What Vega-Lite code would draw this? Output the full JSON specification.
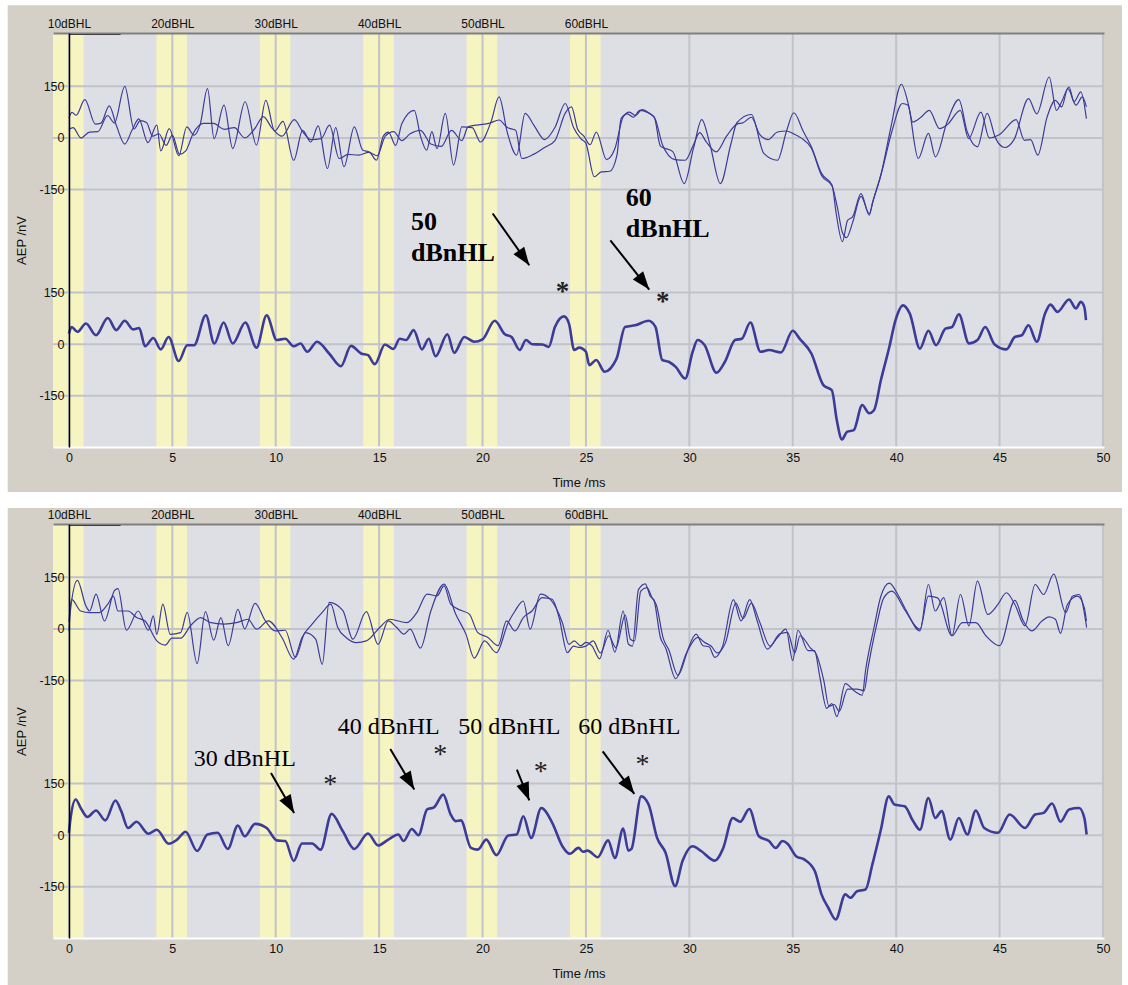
{
"$schema": "https://vega.github.io/schema/vega-lite/v6.json",
"background": "white",
"padding": {"left": 7, "top": 5, "right": 7, "bottom": 0},
"spacing": 15,
"config": {
  "view": {"stroke": null},
  "axis": {"labelFont": "Liberation Sans", "labelFontSize": 12.5, "labelColor": "#111111", "titleFont": "Liberation Sans", "titleFontSize": 13, "titleFontWeight": "normal", "titleColor": "#111111", "ticks": false, "grid": false, "labelFlush": false}
},
"datasets": {
  "bands": [{"from": -0.77, "to": 0.71}, {"from": 4.23, "to": 5.71}, {"from": 9.23, "to": 10.71}, {"from": 14.23, "to": 15.71}, {"from": 19.23, "to": 20.71}, {"from": 24.23, "to": 25.71}],
  "xgrid": [{"t": 0}, {"t": 5}, {"t": 10}, {"t": 15}, {"t": 20}, {"t": 25}, {"t": 30}, {"t": 35}, {"t": 40}, {"t": 45}, {"t": 50}],
  "ygrid": [{"v": -150}, {"v": 0}, {"v": 150}],
  "p1text": [{"t": 16.54, "v": 331, "label": "50\ndBnHL"}, {"t": 26.93, "v": 401, "label": "60\ndBnHL"}],
  "p1stars": [{"t": 23.87, "v": 128.8, "label": "*"}, {"t": 28.71, "v": 99.7, "label": "*"}],
  "p1arrows": [{"t": 20.49, "v": 380, "t2": 22.26, "v2": 229.7, "heading": 144.7}, {"t": 26.18, "v": 302, "t2": 28.06, "v2": 159, "heading": 141.6}],
  "p2text": [{"t": 6.04, "v": 200.6, "label": "30 dBnHL"}, {"t": 13.0, "v": 295.6, "label": "40 dBnHL"}, {"t": 18.83, "v": 295.6, "label": "50 dBnHL"}, {"t": 24.63, "v": 295.6, "label": "60 dBnHL"}],
  "p2stars": [{"t": 12.64, "v": 122, "label": "*"}, {"t": 17.95, "v": 209, "label": "*"}, {"t": 22.82, "v": 160, "label": "*"}, {"t": 27.74, "v": 181, "label": "*"}],
  "p2arrows": [{"t": 9.77, "v": 181, "t2": 10.89, "v2": 64.8, "heading": 149.8}, {"t": 15.54, "v": 250.9, "t2": 16.70, "v2": 132.8, "heading": 149.4}, {"t": 21.66, "v": 191, "t2": 22.26, "v2": 100.9, "heading": 158.4}, {"t": 25.81, "v": 244, "t2": 27.34, "v2": 120, "heading": 143.5}],
  "p1up": [
{"s":"a","t":0,"v":58},{"s":"a","t":0.15,"v":74},{"s":"a","t":0.35,"v":66},{"s":"a","t":0.77,"v":111},{"s":"a","t":1.28,"v":40},{"s":"a","t":1.55,"v":43},{"s":"a","t":1.95,"v":93},{"s":"a","t":2.3,"v":35},{"s":"a","t":2.7,"v":-18},{"s":"a","t":3.05,"v":22},{"s":"a","t":3.38,"v":55},{"s":"a","t":3.82,"v":-14},{"s":"a","t":4.25,"v":37},{"s":"a","t":4.44,"v":-38},{"s":"a","t":4.85,"v":27},{"s":"a","t":5.31,"v":-52},{"s":"a","t":5.7,"v":32},{"s":"a","t":6.05,"v":8},{"s":"a","t":6.35,"v":40},{"s":"a","t":6.7,"v":143},{"s":"a","t":7.02,"v":-2},{"s":"a","t":7.5,"v":95},{"s":"a","t":7.92,"v":-31},{"s":"a","t":8.52,"v":105},{"s":"a","t":9.07,"v":-21},{"s":"a","t":9.52,"v":109},{"s":"a","t":9.95,"v":20},{"s":"a","t":10.35,"v":48},{"s":"a","t":10.87,"v":-65},{"s":"a","t":11.3,"v":22},{"s":"a","t":11.7,"v":-12},{"s":"a","t":12.05,"v":35},{"s":"a","t":12.5,"v":-89},{"s":"a","t":12.9,"v":30},{"s":"a","t":13.3,"v":-84},{"s":"a","t":13.8,"v":32},{"s":"a","t":14.2,"v":-35},{"s":"a","t":14.55,"v":-42},{"s":"a","t":14.87,"v":-65},{"s":"a","t":15.2,"v":5},{"s":"a","t":15.45,"v":17},{"s":"a","t":15.8,"v":-22},{"s":"a","t":16.1,"v":42},{"s":"a","t":16.7,"v":80},{"s":"a","t":17.0,"v":5},{"s":"a","t":17.3,"v":-36},{"s":"a","t":17.55,"v":18},{"s":"a","t":17.8,"v":-31},{"s":"a","t":18.2,"v":71},{"s":"a","t":18.6,"v":-79},{"s":"a","t":19.0,"v":32},{"s":"a","t":19.5,"v":30},{"s":"a","t":19.9,"v":-12},{"s":"a","t":20.4,"v":45},{"s":"a","t":20.8,"v":119},{"s":"a","t":21.2,"v":15},{"s":"a","t":21.65,"v":-50},{"s":"a","t":22.06,"v":71},{"s":"a","t":22.5,"v":35},{"s":"a","t":23.0,"v":-5},{"s":"a","t":23.5,"v":30},{"s":"a","t":24.0,"v":100},{"s":"a","t":24.4,"v":30},{"s":"a","t":24.75,"v":-2},{"s":"a","t":25.0,"v":-16},{"s":"a","t":25.4,"v":-113},{"s":"a","t":25.74,"v":-99},{"s":"a","t":26.15,"v":-97},{"s":"a","t":26.5,"v":-50},{"s":"a","t":26.7,"v":56},{"s":"a","t":27.0,"v":70},{"s":"a","t":27.3,"v":60},{"s":"a","t":27.6,"v":80},{"s":"a","t":28.0,"v":73},{"s":"a","t":28.3,"v":61},{"s":"a","t":28.6,"v":-24},{"s":"a","t":29.2,"v":-40},{"s":"a","t":29.75,"v":-133},{"s":"a","t":30.2,"v":-30},{"s":"a","t":30.6,"v":53},{"s":"a","t":31.0,"v":-20},{"s":"a","t":31.5,"v":-133},{"s":"a","t":32.0,"v":-20},{"s":"a","t":32.3,"v":44},{"s":"a","t":33.0,"v":68},{"s":"a","t":33.6,"v":-45},{"s":"a","t":34.26,"v":-65},{"s":"a","t":34.7,"v":20},{"s":"a","t":35.05,"v":73},{"s":"a","t":35.5,"v":20},{"s":"a","t":35.9,"v":-26},{"s":"a","t":36.4,"v":-104},{"s":"a","t":36.9,"v":-137},{"s":"a","t":37.1,"v":-220},{"s":"a","t":37.4,"v":-302},{"s":"a","t":37.65,"v":-240},{"s":"a","t":37.9,"v":-229},{"s":"a","t":38.3,"v":-162},{"s":"a","t":38.7,"v":-225},{"s":"a","t":38.85,"v":-190},{"s":"a","t":39.26,"v":-108},{"s":"a","t":39.75,"v":32},{"s":"a","t":40.25,"v":156},{"s":"a","t":40.6,"v":95},{"s":"a","t":41.07,"v":-60},{"s":"a","t":41.56,"v":13},{"s":"a","t":41.9,"v":-55},{"s":"a","t":42.46,"v":46},{"s":"a","t":43.03,"v":111},{"s":"a","t":43.44,"v":17},{"s":"a","t":43.93,"v":-26},{"s":"a","t":44.4,"v":71},{"s":"a","t":44.8,"v":0},{"s":"a","t":45.25,"v":-28},{"s":"a","t":45.7,"v":-5},{"s":"a","t":46.4,"v":114},{"s":"a","t":46.8,"v":70},{"s":"a","t":47.4,"v":177},{"s":"a","t":47.75,"v":80},{"s":"a","t":48.0,"v":105},{"s":"a","t":48.36,"v":148},{"s":"a","t":48.6,"v":105},{"s":"a","t":48.93,"v":134},{"s":"a","t":49.2,"v":56},
{"s":"b","t":0,"v":25},{"s":"b","t":0.2,"v":30},{"s":"b","t":0.58,"v":0},{"s":"b","t":1.0,"v":17},{"s":"b","t":1.4,"v":18},{"s":"b","t":1.87,"v":65},{"s":"b","t":2.2,"v":43},{"s":"b","t":2.7,"v":150},{"s":"b","t":3.15,"v":26},{"s":"b","t":3.45,"v":50},{"s":"b","t":3.75,"v":45},{"s":"b","t":4.05,"v":5},{"s":"b","t":4.35,"v":12},{"s":"b","t":4.7,"v":-22},{"s":"b","t":5.0,"v":8},{"s":"b","t":5.35,"v":-48},{"s":"b","t":5.65,"v":-38},{"s":"b","t":6.0,"v":12},{"s":"b","t":6.5,"v":42},{"s":"b","t":7.0,"v":42},{"s":"b","t":7.5,"v":25},{"s":"b","t":8.0,"v":30},{"s":"b","t":8.5,"v":0},{"s":"b","t":9.0,"v":28},{"s":"b","t":9.4,"v":62},{"s":"b","t":9.8,"v":30},{"s":"b","t":10.3,"v":5},{"s":"b","t":10.9,"v":53},{"s":"b","t":11.3,"v":18},{"s":"b","t":11.7,"v":-5},{"s":"b","t":12.2,"v":-2},{"s":"b","t":12.6,"v":37},{"s":"b","t":13.07,"v":-60},{"s":"b","t":13.5,"v":-48},{"s":"b","t":14.0,"v":-50},{"s":"b","t":14.5,"v":-42},{"s":"b","t":14.9,"v":-52},{"s":"b","t":15.3,"v":5},{"s":"b","t":15.7,"v":18},{"s":"b","t":16.1,"v":-8},{"s":"b","t":16.5,"v":12},{"s":"b","t":17.0,"v":22},{"s":"b","t":17.5,"v":-18},{"s":"b","t":18.0,"v":-25},{"s":"b","t":18.5,"v":22},{"s":"b","t":19.0,"v":-8},{"s":"b","t":19.3,"v":32},{"s":"b","t":19.8,"v":38},{"s":"b","t":20.3,"v":42},{"s":"b","t":20.8,"v":52},{"s":"b","t":21.2,"v":30},{"s":"b","t":21.6,"v":22},{"s":"b","t":21.9,"v":-60},{"s":"b","t":22.4,"v":-50},{"s":"b","t":23.0,"v":-28},{"s":"b","t":23.5,"v":-8},{"s":"b","t":24.0,"v":72},{"s":"b","t":24.3,"v":90},{"s":"b","t":24.6,"v":25},{"s":"b","t":24.9,"v":5},{"s":"b","t":25.2,"v":-20},{"s":"b","t":25.5,"v":17},{"s":"b","t":26.0,"v":-63},{"s":"b","t":26.4,"v":-31},{"s":"b","t":26.8,"v":61},{"s":"b","t":27.1,"v":75},{"s":"b","t":27.4,"v":65},{"s":"b","t":27.7,"v":82},{"s":"b","t":28.1,"v":70},{"s":"b","t":28.35,"v":55},{"s":"b","t":28.7,"v":-20},{"s":"b","t":29.3,"v":-63},{"s":"b","t":29.8,"v":-65},{"s":"b","t":30.2,"v":-20},{"s":"b","t":30.5,"v":15},{"s":"b","t":30.8,"v":-10},{"s":"b","t":31.3,"v":-41},{"s":"b","t":31.8,"v":5},{"s":"b","t":32.3,"v":40},{"s":"b","t":32.6,"v":44},{"s":"b","t":33.0,"v":60},{"s":"b","t":33.4,"v":10},{"s":"b","t":33.8,"v":-5},{"s":"b","t":34.26,"v":17},{"s":"b","t":34.7,"v":20},{"s":"b","t":35.0,"v":13},{"s":"b","t":35.4,"v":0},{"s":"b","t":35.9,"v":-30},{"s":"b","t":36.4,"v":-110},{"s":"b","t":36.9,"v":-140},{"s":"b","t":37.15,"v":-200},{"s":"b","t":37.4,"v":-275},{"s":"b","t":37.6,"v":-290},{"s":"b","t":37.9,"v":-245},{"s":"b","t":38.3,"v":-170},{"s":"b","t":38.7,"v":-220},{"s":"b","t":38.9,"v":-180},{"s":"b","t":39.3,"v":-100},{"s":"b","t":39.8,"v":20},{"s":"b","t":40.3,"v":100},{"s":"b","t":40.57,"v":95},{"s":"b","t":40.8,"v":46},{"s":"b","t":41.2,"v":60},{"s":"b","t":41.6,"v":80},{"s":"b","t":42.1,"v":27},{"s":"b","t":42.5,"v":40},{"s":"b","t":43.1,"v":80},{"s":"b","t":43.5,"v":-2},{"s":"b","t":44.1,"v":75},{"s":"b","t":44.5,"v":0},{"s":"b","t":45.0,"v":10},{"s":"b","t":45.8,"v":53},{"s":"b","t":46.2,"v":-7},{"s":"b","t":46.5,"v":-5},{"s":"b","t":46.85,"v":-50},{"s":"b","t":47.3,"v":61},{"s":"b","t":47.7,"v":109},{"s":"b","t":48.0,"v":90},{"s":"b","t":48.3,"v":143},{"s":"b","t":48.7,"v":95},{"s":"b","t":49.0,"v":119},{"s":"b","t":49.2,"v":90}
  ],
  "p1low": [
{"t":0,"v":31},{"t":0.13,"v":50},{"t":0.41,"v":36},{"t":0.82,"v":60},{"t":1.31,"v":26},{"t":1.88,"v":76},{"t":2.29,"v":41},{"t":2.7,"v":68},{"t":3.1,"v":43},{"t":3.4,"v":47},{"t":3.68,"v":-6},{"t":4.08,"v":18},{"t":4.44,"v":-15},{"t":4.82,"v":21},{"t":5.31,"v":-49},{"t":5.72,"v":-3},{"t":6.05,"v":-3},{"t":6.62,"v":84},{"t":7.03,"v":2},{"t":7.48,"v":63},{"t":7.92,"v":2},{"t":8.53,"v":63},{"t":9.07,"v":-10},{"t":9.56,"v":84},{"t":10.05,"v":12},{"t":10.46,"v":16},{"t":10.87,"v":-6},{"t":11.2,"v":2},{"t":11.52,"v":-22},{"t":12.0,"v":7},{"t":12.58,"v":-27},{"t":13.15,"v":-64},{"t":13.64,"v":-5},{"t":14.13,"v":-27},{"t":14.46,"v":-32},{"t":14.79,"v":-58},{"t":15.28,"v":-1},{"t":15.69,"v":-14},{"t":16.0,"v":16},{"t":16.3,"v":12},{"t":16.67,"v":41},{"t":17.07,"v":-15},{"t":17.4,"v":16},{"t":17.73,"v":-35},{"t":18.3,"v":29},{"t":18.63,"v":-25},{"t":19.12,"v":21},{"t":19.6,"v":7},{"t":20.0,"v":14},{"t":20.59,"v":68},{"t":21.08,"v":29},{"t":21.4,"v":21},{"t":21.8,"v":-17},{"t":22.1,"v":12},{"t":22.4,"v":0},{"t":22.9,"v":-1},{"t":23.2,"v":-8},{"t":23.5,"v":50},{"t":23.94,"v":81},{"t":24.18,"v":60},{"t":24.43,"v":-17},{"t":24.67,"v":-10},{"t":25.0,"v":-22},{"t":25.16,"v":-61},{"t":25.5,"v":-46},{"t":25.9,"v":-80},{"t":26.48,"v":-42},{"t":26.89,"v":50},{"t":27.38,"v":55},{"t":28.03,"v":68},{"t":28.36,"v":50},{"t":28.69,"v":-46},{"t":29.0,"v":-51},{"t":29.34,"v":-66},{"t":29.8,"v":-100},{"t":30.16,"v":-22},{"t":30.4,"v":12},{"t":30.74,"v":-3},{"t":31.31,"v":-83},{"t":31.72,"v":-51},{"t":32.21,"v":12},{"t":32.54,"v":16},{"t":32.95,"v":63},{"t":33.44,"v":-22},{"t":33.85,"v":-17},{"t":34.43,"v":-24},{"t":35.0,"v":39},{"t":35.33,"v":16},{"t":35.9,"v":-27},{"t":36.48,"v":-119},{"t":36.89,"v":-134},{"t":37.13,"v":-221},{"t":37.38,"v":-277},{"t":37.62,"v":-255},{"t":37.95,"v":-250},{"t":38.36,"v":-177},{"t":38.69,"v":-201},{"t":38.93,"v":-192},{"t":39.26,"v":-105},{"t":39.67,"v":-8},{"t":39.97,"v":70},{"t":40.33,"v":113},{"t":40.66,"v":89},{"t":41.15,"v":-13},{"t":41.56,"v":39},{"t":41.93,"v":-3},{"t":42.38,"v":45},{"t":42.7,"v":50},{"t":43.03,"v":87},{"t":43.52,"v":2},{"t":43.93,"v":12},{"t":44.31,"v":50},{"t":44.75,"v":0},{"t":45.33,"v":-15},{"t":45.74,"v":21},{"t":46.07,"v":26},{"t":46.4,"v":55},{"t":46.8,"v":7},{"t":47.2,"v":89},{"t":47.46,"v":115},{"t":47.8,"v":94},{"t":48.36,"v":130},{"t":48.69,"v":104},{"t":48.93,"v":123},{"t":49.1,"v":108},{"t":49.18,"v":70}
  ],
  "p2up": [
{"s":"a","t":0,"v":-6},{"s":"a","t":0.08,"v":57},{"s":"a","t":0.41,"v":141},{"s":"a","t":0.82,"v":67},{"s":"a","t":1.0,"v":52},{"s":"a","t":1.31,"v":101},{"s":"a","t":1.72,"v":23},{"s":"a","t":2.2,"v":111},{"s":"a","t":2.37,"v":117},{"s":"a","t":2.78,"v":-4},{"s":"a","t":3.35,"v":52},{"s":"a","t":3.84,"v":-4},{"s":"a","t":4.08,"v":38},{"s":"a","t":4.25,"v":-16},{"s":"a","t":4.54,"v":72},{"s":"a","t":4.9,"v":-16},{"s":"a","t":5.4,"v":-11},{"s":"a","t":5.72,"v":48},{"s":"a","t":6.2,"v":-101},{"s":"a","t":6.6,"v":50},{"s":"a","t":7.0,"v":-33},{"s":"a","t":7.35,"v":33},{"s":"a","t":7.7,"v":-49},{"s":"a","t":8.17,"v":57},{"s":"a","t":8.5,"v":0},{"s":"a","t":9.0,"v":74},{"s":"a","t":9.5,"v":23},{"s":"a","t":9.97,"v":-6},{"s":"a","t":10.46,"v":-4},{"s":"a","t":10.95,"v":-83},{"s":"a","t":11.44,"v":-11},{"s":"a","t":11.93,"v":-30},{"s":"a","t":12.25,"v":-103},{"s":"a","t":12.58,"v":77},{"s":"a","t":13.24,"v":54},{"s":"a","t":13.73,"v":-30},{"s":"a","t":14.38,"v":50},{"s":"a","t":14.95,"v":-45},{"s":"a","t":15.44,"v":23},{"s":"a","t":15.85,"v":4},{"s":"a","t":16.2,"v":-15},{"s":"a","t":16.5,"v":-1},{"s":"a","t":17.0,"v":-56},{"s":"a","t":17.5,"v":52},{"s":"a","t":18.14,"v":130},{"s":"a","t":18.7,"v":43},{"s":"a","t":19.2,"v":-16},{"s":"a","t":19.6,"v":-85},{"s":"a","t":20.1,"v":-35},{"s":"a","t":20.67,"v":-69},{"s":"a","t":21.24,"v":18},{"s":"a","t":21.57,"v":52},{"s":"a","t":21.97,"v":81},{"s":"a","t":22.3,"v":-1},{"s":"a","t":22.8,"v":101},{"s":"a","t":23.28,"v":86},{"s":"a","t":23.86,"v":18},{"s":"a","t":24.18,"v":-45},{"s":"a","t":24.43,"v":-35},{"s":"a","t":24.75,"v":-49},{"s":"a","t":25.0,"v":-39},{"s":"a","t":25.3,"v":-50},{"s":"a","t":25.66,"v":-87},{"s":"a","t":26.07,"v":-4},{"s":"a","t":26.4,"v":-68},{"s":"a","t":26.8,"v":52},{"s":"a","t":27.05,"v":-44},{"s":"a","t":27.25,"v":-50},{"s":"a","t":27.54,"v":114},{"s":"a","t":27.87,"v":131},{"s":"a","t":28.11,"v":95},{"s":"a","t":28.28,"v":85},{"s":"a","t":28.6,"v":-25},{"s":"a","t":28.85,"v":-55},{"s":"a","t":29.34,"v":-145},{"s":"a","t":29.84,"v":-73},{"s":"a","t":30.33,"v":-15},{"s":"a","t":30.66,"v":-49},{"s":"a","t":30.95,"v":-52},{"s":"a","t":31.23,"v":-83},{"s":"a","t":31.6,"v":-52},{"s":"a","t":32.13,"v":85},{"s":"a","t":32.5,"v":23},{"s":"a","t":32.92,"v":85},{"s":"a","t":33.28,"v":23},{"s":"a","t":33.77,"v":-59},{"s":"a","t":34.26,"v":-25},{"s":"a","t":34.67,"v":-1},{"s":"a","t":35.0,"v":-92},{"s":"a","t":35.25,"v":-4},{"s":"a","t":35.74,"v":-63},{"s":"a","t":36.05,"v":-63},{"s":"a","t":36.31,"v":-140},{"s":"a","t":36.64,"v":-231},{"s":"a","t":36.89,"v":-217},{"s":"a","t":37.13,"v":-255},{"s":"a","t":37.54,"v":-159},{"s":"a","t":38.03,"v":-183},{"s":"a","t":38.36,"v":-193},{"s":"a","t":38.52,"v":-121},{"s":"a","t":38.93,"v":4},{"s":"a","t":39.26,"v":95},{"s":"a","t":39.67,"v":133},{"s":"a","t":40.08,"v":100},{"s":"a","t":40.5,"v":52},{"s":"a","t":41.15,"v":-6},{"s":"a","t":41.56,"v":129},{"s":"a","t":41.89,"v":52},{"s":"a","t":42.3,"v":91},{"s":"a","t":42.7,"v":-20},{"s":"a","t":43.11,"v":100},{"s":"a","t":43.52,"v":9},{"s":"a","t":43.93,"v":139},{"s":"a","t":44.43,"v":42},{"s":"a","t":44.92,"v":71},{"s":"a","t":45.33,"v":105},{"s":"a","t":45.74,"v":71},{"s":"a","t":46.23,"v":9},{"s":"a","t":46.72,"v":129},{"s":"a","t":47.13,"v":100},{"s":"a","t":47.62,"v":159},{"s":"a","t":48.2,"v":47},{"s":"a","t":48.52,"v":95},{"s":"a","t":48.85,"v":100},{"s":"a","t":49.21,"v":4},
{"s":"b","t":0,"v":20},{"s":"b","t":0.13,"v":86},{"s":"b","t":0.57,"v":52},{"s":"b","t":1.0,"v":47},{"s":"b","t":1.47,"v":47},{"s":"b","t":1.88,"v":72},{"s":"b","t":2.15,"v":95},{"s":"b","t":2.37,"v":52},{"s":"b","t":2.86,"v":52},{"s":"b","t":3.27,"v":33},{"s":"b","t":3.68,"v":23},{"s":"b","t":4.25,"v":-35},{"s":"b","t":4.66,"v":-47},{"s":"b","t":4.98,"v":-27},{"s":"b","t":5.4,"v":-27},{"s":"b","t":5.88,"v":9},{"s":"b","t":6.37,"v":33},{"s":"b","t":6.86,"v":18},{"s":"b","t":7.5,"v":14},{"s":"b","t":8.1,"v":18},{"s":"b","t":8.66,"v":28},{"s":"b","t":9.07,"v":-1},{"s":"b","t":9.64,"v":23},{"s":"b","t":10.3,"v":-25},{"s":"b","t":10.87,"v":-88},{"s":"b","t":11.27,"v":-25},{"s":"b","t":11.76,"v":14},{"s":"b","t":12.25,"v":48},{"s":"b","t":12.66,"v":72},{"s":"b","t":13.0,"v":4},{"s":"b","t":13.4,"v":-25},{"s":"b","t":13.9,"v":-40},{"s":"b","t":14.38,"v":-35},{"s":"b","t":15.03,"v":4},{"s":"b","t":15.52,"v":28},{"s":"b","t":16.34,"v":18},{"s":"b","t":16.83,"v":48},{"s":"b","t":17.32,"v":101},{"s":"b","t":17.8,"v":96},{"s":"b","t":18.14,"v":125},{"s":"b","t":18.46,"v":72},{"s":"b","t":18.95,"v":54},{"s":"b","t":19.36,"v":43},{"s":"b","t":19.77,"v":-11},{"s":"b","t":20.26,"v":-25},{"s":"b","t":20.75,"v":-49},{"s":"b","t":21.16,"v":23},{"s":"b","t":21.57,"v":-6},{"s":"b","t":21.97,"v":33},{"s":"b","t":22.39,"v":52},{"s":"b","t":22.88,"v":91},{"s":"b","t":23.37,"v":86},{"s":"b","t":23.7,"v":33},{"s":"b","t":24.1,"v":-69},{"s":"b","t":24.4,"v":-50},{"s":"b","t":24.66,"v":-54},{"s":"b","t":25.0,"v":-50},{"s":"b","t":25.35,"v":-35},{"s":"b","t":25.7,"v":-70},{"s":"b","t":26.1,"v":-20},{"s":"b","t":26.45,"v":-55},{"s":"b","t":26.9,"v":40},{"s":"b","t":27.15,"v":-30},{"s":"b","t":27.35,"v":-35},{"s":"b","t":27.65,"v":110},{"s":"b","t":27.95,"v":120},{"s":"b","t":28.2,"v":90},{"s":"b","t":28.4,"v":70},{"s":"b","t":28.75,"v":-30},{"s":"b","t":29.0,"v":-60},{"s":"b","t":29.45,"v":-135},{"s":"b","t":29.95,"v":-60},{"s":"b","t":30.4,"v":-25},{"s":"b","t":30.75,"v":-40},{"s":"b","t":31.05,"v":-50},{"s":"b","t":31.35,"v":-70},{"s":"b","t":31.75,"v":-40},{"s":"b","t":32.25,"v":75},{"s":"b","t":32.6,"v":30},{"s":"b","t":33.0,"v":75},{"s":"b","t":33.4,"v":20},{"s":"b","t":33.9,"v":-50},{"s":"b","t":34.35,"v":-15},{"s":"b","t":34.75,"v":-10},{"s":"b","t":35.1,"v":-70},{"s":"b","t":35.35,"v":-20},{"s":"b","t":35.85,"v":-55},{"s":"b","t":36.15,"v":-75},{"s":"b","t":36.5,"v":-150},{"s":"b","t":36.75,"v":-225},{"s":"b","t":37.0,"v":-220},{"s":"b","t":37.25,"v":-240},{"s":"b","t":37.65,"v":-175},{"s":"b","t":38.1,"v":-175},{"s":"b","t":38.45,"v":-180},{"s":"b","t":38.65,"v":-110},{"s":"b","t":39.05,"v":10},{"s":"b","t":39.4,"v":90},{"s":"b","t":39.8,"v":110},{"s":"b","t":40.4,"v":57},{"s":"b","t":41.15,"v":-1},{"s":"b","t":41.56,"v":95},{"s":"b","t":42.0,"v":90},{"s":"b","t":42.7,"v":-20},{"s":"b","t":43.2,"v":18},{"s":"b","t":43.85,"v":18},{"s":"b","t":44.34,"v":-20},{"s":"b","t":45.0,"v":-49},{"s":"b","t":45.74,"v":83},{"s":"b","t":46.15,"v":23},{"s":"b","t":46.56,"v":-6},{"s":"b","t":47.05,"v":23},{"s":"b","t":47.4,"v":35},{"s":"b","t":47.7,"v":28},{"s":"b","t":47.95,"v":-13},{"s":"b","t":48.28,"v":71},{"s":"b","t":48.77,"v":95},{"s":"b","t":49.1,"v":61},{"s":"b","t":49.2,"v":23}
  ],
  "p2low": [
{"t":0,"v":7},{"t":0.08,"v":50},{"t":0.33,"v":104},{"t":0.57,"v":79},{"t":0.9,"v":53},{"t":1.31,"v":72},{"t":1.76,"v":43},{"t":2.25,"v":101},{"t":2.53,"v":70},{"t":2.86,"v":21},{"t":3.27,"v":39},{"t":3.84,"v":4},{"t":4.25,"v":16},{"t":4.82,"v":-25},{"t":5.23,"v":-13},{"t":5.64,"v":10},{"t":6.2,"v":-46},{"t":6.7,"v":2},{"t":7.19,"v":7},{"t":7.68,"v":-40},{"t":8.17,"v":28},{"t":8.5,"v":-3},{"t":9.0,"v":33},{"t":9.56,"v":21},{"t":10.05,"v":-15},{"t":10.46,"v":-17},{"t":10.87,"v":-75},{"t":11.27,"v":-24},{"t":11.76,"v":-24},{"t":12.17,"v":-42},{"t":12.7,"v":62},{"t":13.24,"v":12},{"t":13.8,"v":-40},{"t":14.46,"v":5},{"t":14.95,"v":-30},{"t":15.44,"v":-13},{"t":15.93,"v":2},{"t":16.18,"v":-17},{"t":16.58,"v":18},{"t":16.9,"v":0},{"t":17.32,"v":75},{"t":17.65,"v":81},{"t":18.1,"v":118},{"t":18.46,"v":60},{"t":18.7,"v":41},{"t":18.95,"v":43},{"t":19.44,"v":-37},{"t":19.77,"v":-42},{"t":20.18,"v":-13},{"t":20.67,"v":-58},{"t":21.24,"v":-1},{"t":21.65,"v":2},{"t":21.97,"v":55},{"t":22.35,"v":-8},{"t":22.84,"v":79},{"t":23.37,"v":36},{"t":23.86,"v":-32},{"t":24.22,"v":-54},{"t":24.64,"v":-37},{"t":24.85,"v":-48},{"t":25.08,"v":-45},{"t":25.57,"v":-64},{"t":26.07,"v":-15},{"t":26.4,"v":-66},{"t":26.8,"v":19},{"t":27.05,"v":-45},{"t":27.2,"v":-40},{"t":27.67,"v":113},{"t":28.03,"v":89},{"t":28.44,"v":-8},{"t":28.85,"v":-51},{"t":29.31,"v":-148},{"t":29.67,"v":-75},{"t":30.16,"v":-32},{"t":30.57,"v":-46},{"t":31.23,"v":-74},{"t":31.64,"v":-37},{"t":32.1,"v":50},{"t":32.46,"v":39},{"t":32.9,"v":76},{"t":33.36,"v":-3},{"t":33.85,"v":-17},{"t":34.18,"v":-37},{"t":34.5,"v":-17},{"t":34.75,"v":-25},{"t":35.16,"v":-61},{"t":35.57,"v":-71},{"t":36.07,"v":-105},{"t":36.39,"v":-172},{"t":36.72,"v":-211},{"t":37.08,"v":-245},{"t":37.54,"v":-172},{"t":37.79,"v":-182},{"t":38.11,"v":-163},{"t":38.52,"v":-158},{"t":38.85,"v":-85},{"t":39.26,"v":16},{"t":39.64,"v":113},{"t":39.92,"v":89},{"t":40.41,"v":84},{"t":40.82,"v":41},{"t":41.15,"v":16},{"t":41.56,"v":108},{"t":41.89,"v":50},{"t":42.2,"v":70},{"t":42.62,"v":-13},{"t":43.03,"v":50},{"t":43.44,"v":2},{"t":43.85,"v":72},{"t":44.26,"v":21},{"t":44.92,"v":7},{"t":45.49,"v":60},{"t":46.23,"v":21},{"t":46.72,"v":60},{"t":47.13,"v":65},{"t":47.54,"v":92},{"t":47.95,"v":39},{"t":48.36,"v":75},{"t":48.85,"v":79},{"t":49.1,"v":50},{"t":49.21,"v":2}
  ]
},
"vconcat": [
 {
  "width": 1051, "height": 414,
  "layer": [
     {"data": {"values": [{}]}, "mark": {"type": "rect", "color": "#d4d0c8"},
      "encoding": {"x": {"datum": -2.96, "type": "quantitative", "scale": {"domain": [-0.77, 50.05], "nice": false, "zero": false}, "axis": null}, "x2": {"datum": 50.92}, "y": {"datum": 985.5, "type": "quantitative", "scale": {"domain": [-299, 905], "nice": false, "zero": false}, "axis": null}, "y2": {"datum": -430}}},
     {"data": {"values": [{}]}, "mark": {"type": "rect", "color": "#dedfe5"},
      "encoding": {"x": {"datum": -0.77, "type": "quantitative", "scale": {"domain": [-0.77, 50.05], "nice": false, "zero": false}, "axis": null}, "x2": {"datum": 50.05}, "y": {"datum": 905, "type": "quantitative", "scale": {"domain": [-299, 905], "nice": false, "zero": false}, "axis": null}, "y2": {"datum": -299}}},
     {"data": {"name": "bands"}, "mark": {"type": "rect", "fill": "#f6f4c0", "strokeWidth": 0, "stroke": null},
      "encoding": {"x": {"field": "from", "type": "quantitative", "scale": {"domain": [-0.77, 50.05], "nice": false, "zero": false}, "axis": {"orient": "bottom", "zindex": 1, "grid": false, "values": [0,5,10,15,20,25,30,35,40,45,50], "format": "d", "title": "Time /ms", "domainColor": "#ffffff", "domainWidth": 2, "labelPadding": 4, "titlePadding": 13}}, "x2": {"field": "to"}, "y": {"datum": 905, "type": "quantitative", "scale": {"domain": [-299, 905], "nice": false, "zero": false}, "axis": null}, "y2": {"datum": -299}}},
     {"data": {"name": "xgrid"}, "mark": {"type": "rule", "color": "#c2c3c9", "strokeWidth": 2},
      "encoding": {"x": {"field": "t", "type": "quantitative", "scale": {"domain": [-0.77, 50.05], "nice": false, "zero": false}, "axis": {"orient": "top", "zindex": 1, "grid": false, "values": [0,5,10,15,20,25], "labelExpr": "(datum.value/5+1)*10 + 'dBHL'", "title": null, "domainColor": "#808080", "domainWidth": 2, "labelPadding": 3, "labelFontSize": 12}}, "y": {"datum": 905, "type": "quantitative", "scale": {"domain": [-299, 905], "nice": false, "zero": false}, "axis": null}, "y2": {"datum": -299}}},
     {"data": {"name": "ygrid"}, "mark": {"type": "rule", "color": "#c2c3c9", "strokeWidth": 2},
      "encoding": {"y": {"field": "v", "type": "quantitative", "scale": {"domain": [-299, 905], "nice": false, "zero": false}, "axis": {"orient": "left", "zindex": 1, "grid": false, "offset": -16, "values": [-150,0,150,450,600,750], "labelExpr": "datum.value > 300 ? datum.value - 600 : datum.value", "title": "AEP /nV", "titlePadding": 10, "domainColor": "#000000", "domainWidth": 1.5, "labelPadding": 5}}, "x": {"datum": -0.77, "type": "quantitative", "scale": {"domain": [-0.77, 50.05], "nice": false, "zero": false}, "axis": null}, "x2": {"datum": 50.05}}},
     {"data": {"name": "ygrid"}, "mark": {"type": "rule", "color": "#c2c3c9", "strokeWidth": 2},
      "encoding": {"y": {"field": "v", "type": "quantitative", "scale": {"domain": [-899, 305], "nice": false, "zero": false}, "axis": null}, "x": {"datum": -0.77, "type": "quantitative", "scale": {"domain": [-0.77, 50.05], "nice": false, "zero": false}, "axis": null}, "x2": {"datum": 50.05}}},
     {"data": {"name": "p1up"}, "mark": {"type": "line", "interpolate": "monotone", "strokeWidth": 1.2, "color": "#3c3c98"},
      "encoding": {"x": {"field": "t", "type": "quantitative", "scale": {"domain": [-0.77, 50.05], "nice": false, "zero": false}, "axis": null}, "y": {"field": "v", "type": "quantitative", "scale": {"domain": [-899, 305], "nice": false, "zero": false}, "axis": null}, "detail": {"field": "s"}}},
     {"data": {"name": "p1low"}, "mark": {"type": "line", "interpolate": "monotone", "strokeWidth": 2.6, "color": "#3c3c98"},
      "encoding": {"x": {"field": "t", "type": "quantitative", "scale": {"domain": [-0.77, 50.05], "nice": false, "zero": false}, "axis": null}, "y": {"field": "v", "type": "quantitative", "scale": {"domain": [-299, 905], "nice": false, "zero": false}, "axis": null}}},
     {"data": {"values": [{}]}, "mark": {"type": "rule", "color": "#000000", "strokeWidth": 2},
      "encoding": {"x": {"datum": 0, "type": "quantitative", "scale": {"domain": [-0.77, 50.05], "nice": false, "zero": false}, "axis": null}, "x2": {"datum": 2.5}, "y": {"datum": 902, "type": "quantitative", "scale": {"domain": [-299, 905], "nice": false, "zero": false}, "axis": null}}},
     {"data": {"name": "p1arrows"}, "mark": {"type": "rule", "color": "#000000", "strokeWidth": 2},
      "encoding": {"x": {"field": "t", "type": "quantitative", "scale": {"domain": [-0.77, 50.05], "nice": false, "zero": false}, "axis": null}, "x2": {"field": "t2"}, "y": {"field": "v", "type": "quantitative", "scale": {"domain": [-299, 905], "nice": false, "zero": false}, "axis": null}, "y2": {"field": "v2"}}},
     {"data": {"name": "p1arrows"}, "mark": {"type": "point", "shape": "M0,0L0.8,2.2L-0.8,2.2Z", "filled": true, "color": "#000000", "opacity": 1, "size": 270},
      "encoding": {"x": {"field": "t2", "type": "quantitative", "scale": {"domain": [-0.77, 50.05], "nice": false, "zero": false}, "axis": null}, "y": {"field": "v2", "type": "quantitative", "scale": {"domain": [-299, 905], "nice": false, "zero": false}, "axis": null}, "angle": {"field": "heading", "type": "quantitative", "scale": null}}},
     {"data": {"name": "p1text"}, "mark": {"type": "text", "font": "Liberation Serif", "fontSize": 26, "fontWeight": "bold", "align": "left", "baseline": "alphabetic", "lineBreak": "\n", "lineHeight": 31, "color": "#000000"},
      "encoding": {"x": {"field": "t", "type": "quantitative", "scale": {"domain": [-0.77, 50.05], "nice": false, "zero": false}, "axis": null}, "y": {"field": "v", "type": "quantitative", "scale": {"domain": [-299, 905], "nice": false, "zero": false}, "axis": null}, "text": {"field": "label"}}},
     {"data": {"name": "p1stars"}, "mark": {"type": "text", "font": "Liberation Serif", "fontSize": 27, "fontWeight": "bold", "align": "center", "baseline": "alphabetic", "color": "#222222"},
      "encoding": {"x": {"field": "t", "type": "quantitative", "scale": {"domain": [-0.77, 50.05], "nice": false, "zero": false}, "axis": null}, "y": {"field": "v", "type": "quantitative", "scale": {"domain": [-299, 905], "nice": false, "zero": false}, "axis": null}, "text": {"field": "label"}}}
  ],
  "resolve": {"scale": {"y": "independent"}, "axis": {"x": "independent", "y": "independent"}}
 },
 {
  "width": 1051, "height": 414,
  "layer": [
     {"data": {"values": [{}]}, "mark": {"type": "rect", "color": "#d4d0c8"},
      "encoding": {"x": {"datum": -2.96, "type": "quantitative", "scale": {"domain": [-0.77, 50.05], "nice": false, "zero": false}, "axis": null}, "x2": {"datum": 50.92}, "y": {"datum": 951.5, "type": "quantitative", "scale": {"domain": [-299, 905], "nice": false, "zero": false}, "axis": null}, "y2": {"datum": -445}}},
     {"data": {"values": [{}]}, "mark": {"type": "rect", "color": "#dedfe5"},
      "encoding": {"x": {"datum": -0.77, "type": "quantitative", "scale": {"domain": [-0.77, 50.05], "nice": false, "zero": false}, "axis": null}, "x2": {"datum": 50.05}, "y": {"datum": 905, "type": "quantitative", "scale": {"domain": [-299, 905], "nice": false, "zero": false}, "axis": null}, "y2": {"datum": -299}}},
     {"data": {"name": "bands"}, "mark": {"type": "rect", "fill": "#f6f4c0", "strokeWidth": 0, "stroke": null},
      "encoding": {"x": {"field": "from", "type": "quantitative", "scale": {"domain": [-0.77, 50.05], "nice": false, "zero": false}, "axis": {"orient": "bottom", "zindex": 1, "grid": false, "values": [0,5,10,15,20,25,30,35,40,45,50], "format": "d", "title": "Time /ms", "domainColor": "#ffffff", "domainWidth": 2, "labelPadding": 4, "titlePadding": 13}}, "x2": {"field": "to"}, "y": {"datum": 905, "type": "quantitative", "scale": {"domain": [-299, 905], "nice": false, "zero": false}, "axis": null}, "y2": {"datum": -299}}},
     {"data": {"name": "xgrid"}, "mark": {"type": "rule", "color": "#c2c3c9", "strokeWidth": 2},
      "encoding": {"x": {"field": "t", "type": "quantitative", "scale": {"domain": [-0.77, 50.05], "nice": false, "zero": false}, "axis": {"orient": "top", "zindex": 1, "grid": false, "values": [0,5,10,15,20,25], "labelExpr": "(datum.value/5+1)*10 + 'dBHL'", "title": null, "domainColor": "#808080", "domainWidth": 2, "labelPadding": 3, "labelFontSize": 12}}, "y": {"datum": 905, "type": "quantitative", "scale": {"domain": [-299, 905], "nice": false, "zero": false}, "axis": null}, "y2": {"datum": -299}}},
     {"data": {"name": "ygrid"}, "mark": {"type": "rule", "color": "#c2c3c9", "strokeWidth": 2},
      "encoding": {"y": {"field": "v", "type": "quantitative", "scale": {"domain": [-299, 905], "nice": false, "zero": false}, "axis": {"orient": "left", "zindex": 1, "grid": false, "offset": -16, "values": [-150,0,150,450,600,750], "labelExpr": "datum.value > 300 ? datum.value - 600 : datum.value", "title": "AEP /nV", "titlePadding": 10, "domainColor": "#000000", "domainWidth": 1.5, "labelPadding": 5}}, "x": {"datum": -0.77, "type": "quantitative", "scale": {"domain": [-0.77, 50.05], "nice": false, "zero": false}, "axis": null}, "x2": {"datum": 50.05}}},
     {"data": {"name": "ygrid"}, "mark": {"type": "rule", "color": "#c2c3c9", "strokeWidth": 2},
      "encoding": {"y": {"field": "v", "type": "quantitative", "scale": {"domain": [-899, 305], "nice": false, "zero": false}, "axis": null}, "x": {"datum": -0.77, "type": "quantitative", "scale": {"domain": [-0.77, 50.05], "nice": false, "zero": false}, "axis": null}, "x2": {"datum": 50.05}}},
     {"data": {"name": "p2up"}, "mark": {"type": "line", "interpolate": "monotone", "strokeWidth": 1.2, "color": "#3c3c98"},
      "encoding": {"x": {"field": "t", "type": "quantitative", "scale": {"domain": [-0.77, 50.05], "nice": false, "zero": false}, "axis": null}, "y": {"field": "v", "type": "quantitative", "scale": {"domain": [-899, 305], "nice": false, "zero": false}, "axis": null}, "detail": {"field": "s"}}},
     {"data": {"name": "p2low"}, "mark": {"type": "line", "interpolate": "monotone", "strokeWidth": 2.6, "color": "#3c3c98"},
      "encoding": {"x": {"field": "t", "type": "quantitative", "scale": {"domain": [-0.77, 50.05], "nice": false, "zero": false}, "axis": null}, "y": {"field": "v", "type": "quantitative", "scale": {"domain": [-299, 905], "nice": false, "zero": false}, "axis": null}}},
     {"data": {"values": [{}]}, "mark": {"type": "rule", "color": "#000000", "strokeWidth": 2},
      "encoding": {"x": {"datum": 0, "type": "quantitative", "scale": {"domain": [-0.77, 50.05], "nice": false, "zero": false}, "axis": null}, "x2": {"datum": 2.5}, "y": {"datum": 902, "type": "quantitative", "scale": {"domain": [-299, 905], "nice": false, "zero": false}, "axis": null}}},
     {"data": {"name": "p2arrows"}, "mark": {"type": "rule", "color": "#000000", "strokeWidth": 2},
      "encoding": {"x": {"field": "t", "type": "quantitative", "scale": {"domain": [-0.77, 50.05], "nice": false, "zero": false}, "axis": null}, "x2": {"field": "t2"}, "y": {"field": "v", "type": "quantitative", "scale": {"domain": [-299, 905], "nice": false, "zero": false}, "axis": null}, "y2": {"field": "v2"}}},
     {"data": {"name": "p2arrows"}, "mark": {"type": "point", "shape": "M0,0L0.8,2.2L-0.8,2.2Z", "filled": true, "color": "#000000", "opacity": 1, "size": 270},
      "encoding": {"x": {"field": "t2", "type": "quantitative", "scale": {"domain": [-0.77, 50.05], "nice": false, "zero": false}, "axis": null}, "y": {"field": "v2", "type": "quantitative", "scale": {"domain": [-299, 905], "nice": false, "zero": false}, "axis": null}, "angle": {"field": "heading", "type": "quantitative", "scale": null}}},
     {"data": {"name": "p2text"}, "mark": {"type": "text", "font": "Liberation Serif", "fontSize": 24, "align": "left", "baseline": "alphabetic", "color": "#000000"},
      "encoding": {"x": {"field": "t", "type": "quantitative", "scale": {"domain": [-0.77, 50.05], "nice": false, "zero": false}, "axis": null}, "y": {"field": "v", "type": "quantitative", "scale": {"domain": [-299, 905], "nice": false, "zero": false}, "axis": null}, "text": {"field": "label"}}},
     {"data": {"name": "p2stars"}, "mark": {"type": "text", "font": "Liberation Serif", "fontSize": 28, "align": "center", "baseline": "alphabetic", "color": "#222222"},
      "encoding": {"x": {"field": "t", "type": "quantitative", "scale": {"domain": [-0.77, 50.05], "nice": false, "zero": false}, "axis": null}, "y": {"field": "v", "type": "quantitative", "scale": {"domain": [-299, 905], "nice": false, "zero": false}, "axis": null}, "text": {"field": "label"}}}
  ],
  "resolve": {"scale": {"y": "independent"}, "axis": {"x": "independent", "y": "independent"}}
 }
]
}
